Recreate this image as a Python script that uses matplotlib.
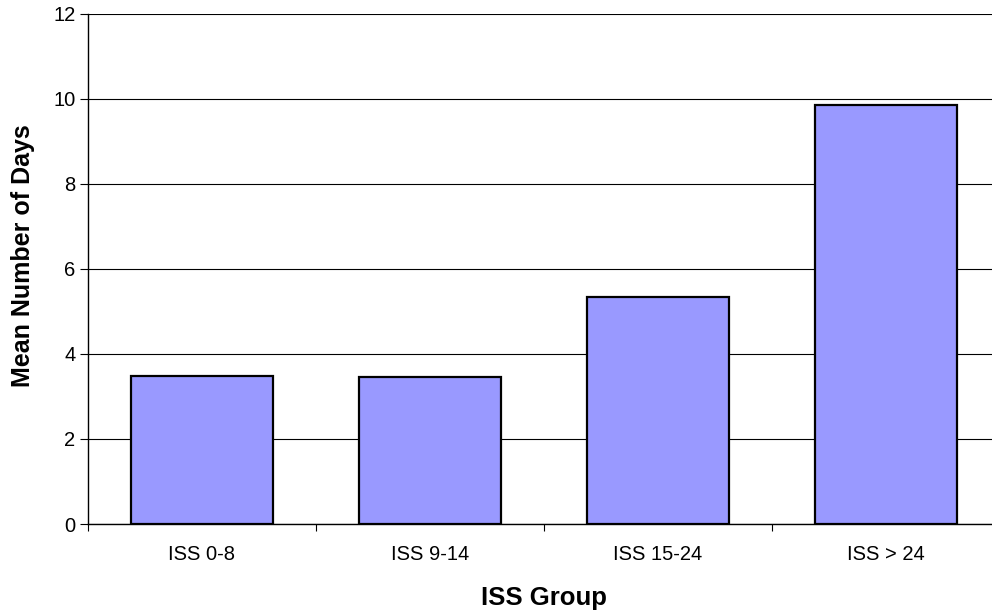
import matplotlib
matplotlib.use("Agg")
import matplotlib.pyplot as plt
import numpy as np

plt.rcParams['font.family'] = ['Liberation Sans', 'DejaVu Sans']

categories = ["ISS 0-8", "ISS 9-14", "ISS 15-24", "ISS > 24"]
values = [3.47, 3.46, 5.34, 9.85]
yticks = [0, 2, 4, 6, 8, 10, 12]

fig = plt.figure(figsize=(9.92, 6.13), dpi=100)
ax = fig.add_axes([88/992, (613-524)/613, 912/992, (524-13.7)/613])

x = np.arange(len(categories))
ax.bar(x, values, width=0.627, color="#9999FF", edgecolor="black", linewidth=1.6, zorder=3)

ax.set_xlim(-0.5, len(categories) - 0.5)
ax.set_ylim(0, 12)
ax.set_yticks(yticks)
ax.set_yticklabels([str(t) for t in yticks], fontsize=14.5)
ax.yaxis.grid(True, color="black", linewidth=0.8, zorder=0)
ax.set_axisbelow(True)

ax.set_xticks(x)
ax.set_xticklabels(categories, fontsize=14.5)
ax.tick_params(axis='x', length=0, pad=15)
ax.set_xticks(np.arange(-0.5, len(categories)), minor=True)
ax.tick_params(axis='x', which='minor', length=5, width=0.8, direction='out')
ax.tick_params(axis='y', length=6, width=0.8, direction='out', pad=3)

for s in ['top', 'right']:
    ax.spines[s].set_visible(False)
ax.spines['left'].set_linewidth(1.0)
ax.spines['bottom'].set_linewidth(1.0)

ax.set_xlabel("ISS Group", fontsize=18.5, fontweight='bold', labelpad=16)
ax.set_ylabel("Mean Number of Days", fontsize=18, fontweight='bold')
ax.yaxis.set_label_coords(-0.058, (524 - 256) / 510.3)

fig.savefig("out.png", dpi=100)
